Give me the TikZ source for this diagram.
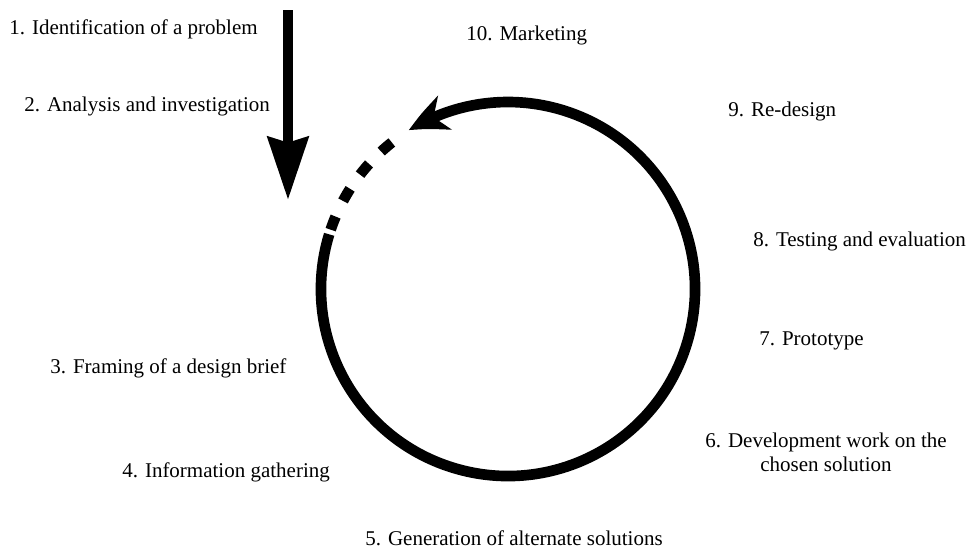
\documentclass[tikz,border=0pt]{standalone}
\usepackage{fontspec}
\setmainfont{Liberation Serif}
\usetikzlibrary{arrows.meta,bending}

\begin{document}
\begin{tikzpicture}[x=0.75pt,y=-0.75pt,
    stage/.style={anchor=base west,inner sep=0pt,
    font=\fontsize{15.75}{18}\selectfont},
    cycleline/.style={line width=8pt},
    >=Stealth
]
  \useasboundingbox (0,0) rectangle (969,551);

  \node[stage] (problem)     at (9,34)   {1. Identification of a problem};
  \node[stage] (analysis)    at (24,111) {2. Analysis and investigation};
  \node[stage] (brief)       at (50,373) {3. Framing of a design brief};
  \node[stage] (gathering)   at (122,477) {4. Information gathering};
  \node[stage] (alternates)  at (365,545) {5. Generation of alternate solutions};
  \node[stage, anchor=base, align=center] (development) at (826,471) {6. Development work on the\\chosen solution};
  \node[stage] (prototype)   at (759,345) {7. Prototype};
  \node[stage] (testing)     at (753,246) {8. Testing and evaluation};
  \node[stage] (redesign)    at (728,116) {9. Re-design};
  \node[stage] (marketing)   at (466,40)  {10. Marketing};

  \coordinate (centre)   at (508,289);
  \coordinate (entry)    at (288,10);
  \coordinate (entrytip) at (288,200);

  \draw[cycleline, -{Stealth[length=47pt,width=30pt,inset=4pt]}] (entry) -- (entrytip);
  \draw[cycleline, -{Stealth[length=30pt,width=27pt,inset=9pt,bend]}]
    ([shift={(197:187)}]centre) arc[start angle=197, end angle=-122, radius=187];
  \draw[cycleline, dash pattern=on 10.5pt off 13pt]
    ([shift={(198.5:187)}]centre) arc[start angle=198.5, end angle=233, radius=187];
\end{tikzpicture}
\end{document}
